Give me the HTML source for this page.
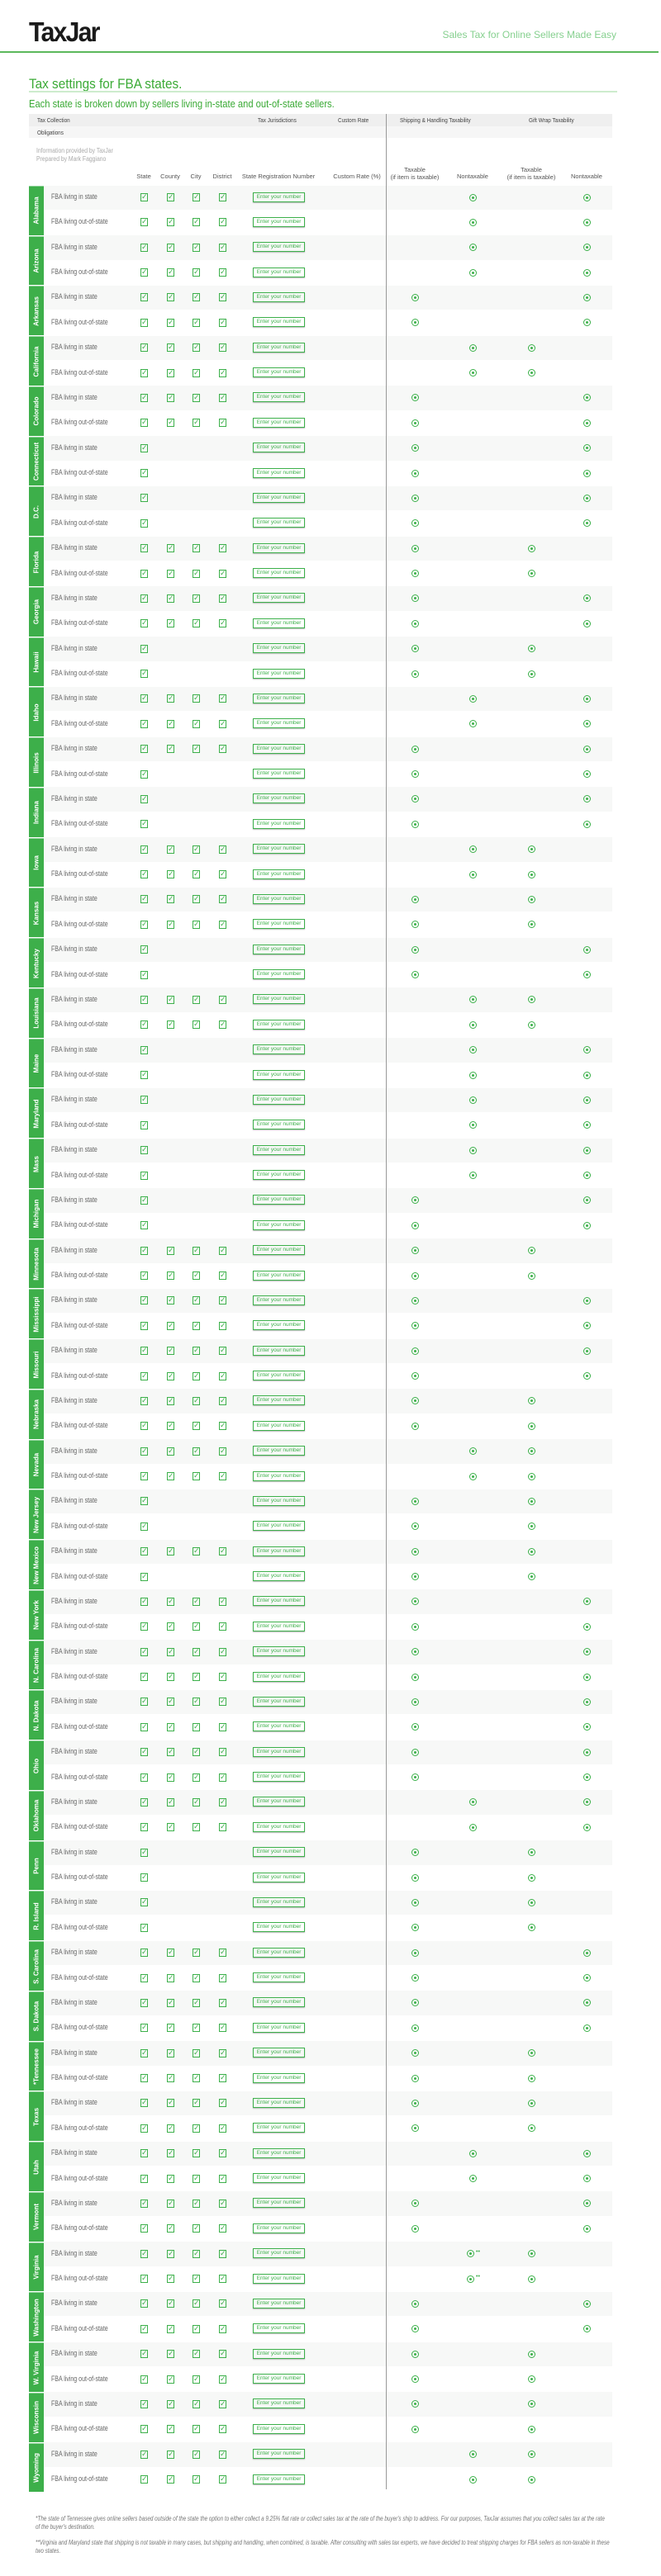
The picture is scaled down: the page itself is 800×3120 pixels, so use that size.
<!DOCTYPE html>
<html><head><meta charset="utf-8">
<style>
html,body{margin:0;padding:0;background:#fff;}
body{width:800px;height:3120px;position:relative;overflow:hidden;font-family:"Liberation Sans",sans-serif;}
.a{position:absolute;white-space:nowrap;}
.sx{transform-origin:0 50%;}
.cb{position:absolute;width:7px;height:8px;border:1px solid #3cb04a;box-sizing:content-box;}
.cb span{position:absolute;left:0;top:-2px;font-size:9px;color:#3cb04a;line-height:10px;}
.rd{position:absolute;width:7px;height:7px;border:1px solid #3cb04a;border-radius:50%;}
.rd i{position:absolute;left:2px;top:2px;width:3px;height:3px;border-radius:50%;background:#3cb04a;}
.inp{position:absolute;width:61px;height:10px;border:1.5px solid #3cb04a;box-shadow:0 1px 1px #bbb;font-size:6.5px;color:#3cb04a;line-height:10px;text-align:center;}
.tab{position:absolute;left:35px;width:18px;background:#3daf4a;border-top:1px solid #8fd39a;}
.tab span{position:absolute;left:50%;top:50%;transform:translate(-50%,-50%) rotate(-90deg);color:#fff;font-weight:bold;font-size:8px;white-space:nowrap;}
.lbl{font-size:9px;color:#666;transform:scaleX(0.78);transform-origin:0 50%;}
.hd{font-size:7.5px;color:#444;transform:scaleX(0.85);}
.ch{font-size:7.5px;color:#555;text-align:center;}
</style></head>
<body>
<div class="a" style="left:35px;top:20px;font-size:33px;font-weight:bold;letter-spacing:-2px;color:#1a1a1a;transform:scaleX(0.92);transform-origin:0 0;">TaxJar</div>
<div class="a" style="right:54px;top:35px;font-size:12px;color:#86d08f;">Sales Tax for Online Sellers Made Easy</div>
<div class="a" style="left:0;top:62px;width:797px;height:2px;background:#5cb85c;"></div>
<div class="a" style="left:35px;top:92px;font-size:17px;color:#3aaa35;transform:scaleX(0.9);transform-origin:0 0;">Tax settings for FBA states.</div>
<div class="a" style="left:35px;top:110px;width:712px;height:1.5px;background:#cdeccd;"></div>
<div class="a" style="left:35px;top:118px;font-size:13px;color:#3aaa35;transform:scaleX(0.86);transform-origin:0 0;">Each state is broken down by sellers living in-state and out-of-state sellers.</div>
<div class="a" style="left:35px;top:138px;width:706px;height:15px;background:#efefef;"></div>
<div class="a" style="left:35px;top:153px;width:706px;height:14px;background:#f6f6f6;"></div>
<div class="a hd sx" style="left:45px;top:141px;">Tax Collection</div>
<div class="a hd sx" style="left:45px;top:156px;">Obligations</div>
<div class="a hd sx" style="left:312px;top:141px;">Tax Jurisdictions</div>
<div class="a hd sx" style="left:409px;top:141px;">Custom Rate</div>
<div class="a hd sx" style="left:484px;top:141px;">Shipping &amp; Handling Taxability</div>
<div class="a hd sx" style="left:640px;top:141px;">Gift Wrap Taxability</div>
<div class="a" style="left:44px;top:178px;font-size:8px;line-height:10px;color:#aaa;transform:scaleX(0.85);transform-origin:0 0;">Information provided by TaxJar<br>Prepared by Mark Faggiano</div>
<div class="a ch" style="left:154px;width:40px;top:209px;">State</div>
<div class="a ch" style="left:186px;width:40px;top:209px;">County</div>
<div class="a ch" style="left:217px;width:40px;top:209px;">City</div>
<div class="a ch" style="left:249px;width:40px;top:209px;">District</div>
<div class="a ch" style="left:287px;width:100px;top:209px;">State Registration Number</div>
<div class="a ch" style="left:397px;width:70px;top:209px;">Custom Rate (%)</div>
<div class="a ch" style="left:467px;width:70px;top:201px;line-height:9px;">Taxable<br>(if item is taxable)</div>
<div class="a ch" style="left:542px;width:60px;top:209px;">Nontaxable</div>
<div class="a ch" style="left:608px;width:70px;top:201px;line-height:9px;">Taxable<br>(if item is taxable)</div>
<div class="a ch" style="left:680px;width:60px;top:209px;">Nontaxable</div>
<div id="rows"></div>
<div class="a" style="left:467px;top:138px;width:1px;height:2877px;background:#999;"></div>
<div class="a" style="left:43px;top:3046px;width:880px;font-size:8px;line-height:10px;font-style:italic;color:#777;transform:scaleX(0.79);transform-origin:0 0;white-space:normal;">*The state of Tennessee gives online sellers based outside of the state the option to either collect a 9.25% flat rate or collect sales tax at the rate of the buyer's ship to address. For our purposes, TaxJar assumes that you collect sales tax at the rate of the buyer's destination.</div>
<div class="a" style="left:43px;top:3075px;width:880px;font-size:8px;line-height:10px;font-style:italic;color:#777;transform:scaleX(0.79);transform-origin:0 0;white-space:normal;">**Virginia and Maryland state that shipping is not taxable in many cases, but shipping and handling, when combined, is taxable. After consulting with sales tax experts, we have decided to treat shipping charges for FBA sellers as non-taxable in these two states.</div>
<script>
const states=["Alabama","Arizona","Arkansas","California","Colorado","Connecticut","D.C.","Florida","Georgia","Hawaii","Idaho","Illinois","Indiana","Iowa","Kansas","Kentucky","Louisiana","Maine","Maryland","Mass","Michigan","Minnesota","Mississippi","Missouri","Nebraska","Nevada","New Jersey","New Mexico","New York","N. Carolina","N. Dakota","Ohio","Oklahoma","Penn","R. Island","S. Carolina","S. Dakota","*Tennessee","Texas","Utah","Vermont","Virginia","Washington","W. Virginia","Wisconsin","Wyoming"];
const checksIn=[4,4,4,4,4,1,1,4,4,1,4,4,1,4,4,1,4,1,1,1,1,4,4,4,4,4,1,4,4,4,4,4,4,1,1,4,4,4,4,4,4,4,4,4,4,4];
const checksOut=[4,4,4,4,4,1,1,4,4,1,4,1,1,4,4,1,4,1,1,1,1,4,4,4,4,4,1,1,4,4,4,4,4,1,1,4,4,4,4,4,4,4,4,4,4,4];
const shipping=["N","N","T","N","T","T","T","T","T","T","N","T","T","N","T","T","N","N","N","N","T","T","T","T","T","N","T","T","T","T","T","T","N","T","T","T","T","T","T","N","T","N*","T","T","T","N"];
const giftWrap=["N","N","N","T","N","N","N","T","N","T","N","N","N","T","T","N","T","N","N","N","N","T","N","N","T","T","T","T","N","N","N","N","N","T","T","N","N","T","T","N","N","T","N","T","T","T"];
const rowLabels=["FBA living in state","FBA living out-of-state"];
const checkCols=[174,206,237,269];
const ROW0=239, PITCH=30.374;
const rowY=r=>ROW0+r*PITCH;
const shipX=v=>v[0]==="T"?502:572;
const giftX=v=>v==="T"?643:710;
const root=document.getElementById('rows');
states.forEach((st,s)=>{
  const tab=document.createElement('div');
  tab.className='tab';
  
  
  const top=rowY(2*s)-14;
  tab.style.top=top+'px';
  tab.style.height=(2*PITCH-2)+'px';
  tab.innerHTML='<span>'+st+'</span>';
  root.appendChild(tab);
  [0,1].forEach(k=>{
    const r=2*s+k, y=rowY(r);
    if(k===0){
      const bg=document.createElement('div');
      bg.className='a';
      
      
      bg.style.cssText='left:53px;width:688px;height:'+(PITCH-1)+'px;top:'+(y-14.5)+'px;background:#f7f8f7;';
      root.appendChild(bg);
    }
    const lb=document.createElement('div');
    lb.className='a lbl';
    
    
    lb.style.left='62px';lb.style.top=(y-6)+'px';
    lb.textContent=rowLabels[k];
    root.appendChild(lb);
    const n=k===0?checksIn[s]:checksOut[s];
    for(let c=0;c<n;c++){
      const cb=document.createElement('div');
      cb.className='cb';
      
      
      cb.style.left=(checkCols[c]-4)+'px';cb.style.top=(y-5)+'px';
      cb.innerHTML='<span>✓</span>';
      root.appendChild(cb);
    }
    const inp=document.createElement('div');
    inp.className='inp';
    
    
    inp.style.left='306px';inp.style.top=(y-6.5)+'px';
    inp.textContent='Enter your number';
    root.appendChild(inp);
    const sv=shipping[s];
    const rs=document.createElement('div');
    rs.className='rd';
    
    
    rs.style.left=(shipX(sv)-4-(sv.length>1?3:0))+'px';rs.style.top=(y-4.5)+'px';
    rs.innerHTML='<i></i>';
    root.appendChild(rs);
    if(sv.length>1){
      const m=document.createElement('div');
      m.className='a';
      
      
      m.style.cssText='left:'+(shipX(sv)+4)+'px;top:'+(y-6)+'px;font-size:7px;color:#3cb04a;';
      m.textContent='••';
      root.appendChild(m);
    }
    const rg=document.createElement('div');
    rg.className='rd';
    
    
    rg.style.left=(giftX(giftWrap[s])-4)+'px';rg.style.top=(y-4.5)+'px';
    rg.innerHTML='<i></i>';
    root.appendChild(rg);
  });
});
</script>
</body></html>
